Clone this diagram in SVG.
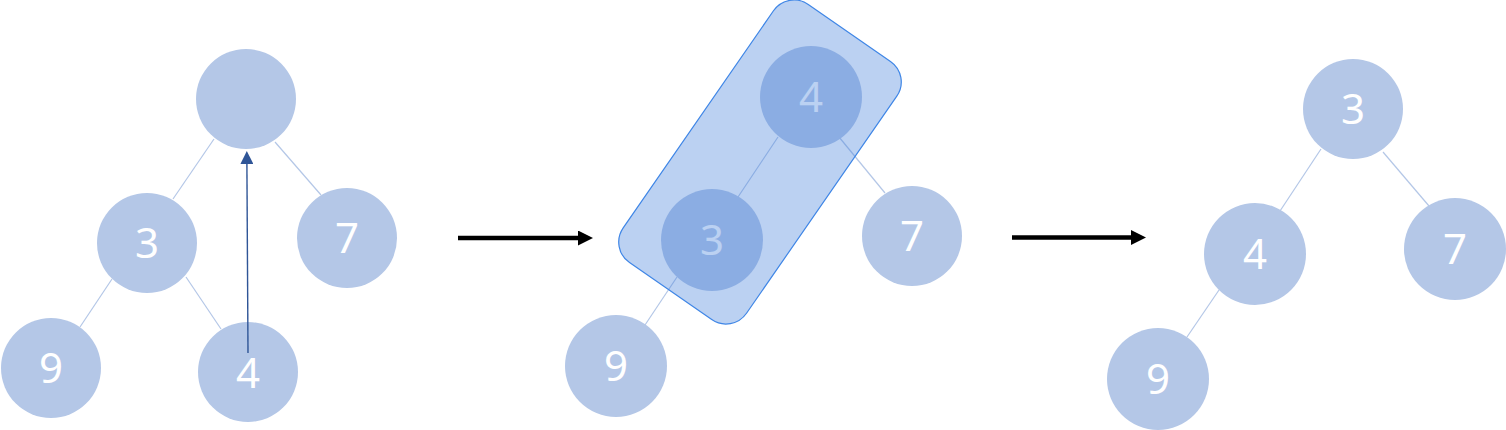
<svg xmlns="http://www.w3.org/2000/svg" width="1506" height="430" viewBox="0 0 1506 430">
  <defs>
    <style>
      .node circle { fill: #B4C7E7; }
      .node text { font-family: "Noto Sans", "Open Sans", "Liberation Sans", sans-serif; font-size: 42px; fill: #FFFFFF; text-anchor: middle; }
      .edge { stroke: #B4C7E7; stroke-width: 1.2; fill: none; }
      .step { stroke: #000000; stroke-width: 4.5; fill: none; }
    </style>
    <marker id="blackHead" viewBox="0 0 10 10" refX="0" refY="5" markerUnits="userSpaceOnUse" markerWidth="15" markerHeight="15" orient="auto">
      <path d="M0,0 L10,5 L0,10 Z" fill="#000000"/>
    </marker>
    <marker id="blueHead" viewBox="0 0 10 10" refX="0" refY="5" markerUnits="userSpaceOnUse" markerWidth="13" markerHeight="13" orient="auto">
      <path d="M0,0 L10,5 L0,10 Z" fill="#2F5597"/>
    </marker>
  </defs>
  <rect width="1506" height="430" fill="#FFFFFF"/>

  <g id="connectors">
    <!-- left tree -->
    <line class="edge" x1="214" y1="139" x2="173" y2="199"/>
    <line class="edge" x1="275" y1="142" x2="321" y2="195"/>
    <line class="edge" x1="112" y1="279" x2="80" y2="327"/>
    <line class="edge" x1="186" y1="277" x2="221" y2="329"/>
    <!-- middle tree -->
    <line class="edge" x1="778" y1="137" x2="738" y2="197"/>
    <line class="edge" x1="839" y1="137" x2="885" y2="193"/>
    <line class="edge" x1="677" y1="277" x2="645" y2="325"/>
    <!-- right tree -->
    <line class="edge" x1="1321" y1="149" x2="1280" y2="211"/>
    <line class="edge" x1="1383" y1="152" x2="1429" y2="206"/>
    <line class="edge" x1="1219" y1="290" x2="1187" y2="337"/>
    <!-- step arrows -->
    <line class="step" x1="458" y1="238" x2="578" y2="238" marker-end="url(#blackHead)"/>
    <line class="step" x1="1012" y1="237.5" x2="1131" y2="237.5" marker-end="url(#blackHead)"/>
  </g>

  <!-- left tree -->
  <g id="L-root" class="node"><circle cx="246" cy="99" r="50"/></g>
  <g id="L-3" class="node"><circle cx="147" cy="243" r="50"/><text x="147" y="258">3</text></g>
  <g id="L-7" class="node"><circle cx="347" cy="238" r="50"/><text x="347" y="253">7</text></g>
  <g id="L-9" class="node"><circle cx="51" cy="368" r="50"/><text x="51" y="383">9</text></g>
  <g id="L-4" class="node"><circle cx="248" cy="372" r="50"/><text x="248" y="388">4</text></g>
  <g id="move-arrow">
    <line x1="248" y1="353" x2="246.9" y2="164" stroke="#2F5597" stroke-width="1.4" marker-end="url(#blueHead)"/>
  </g>

  <!-- middle tree -->
  <g id="M-4" class="node"><circle cx="811" cy="97" r="51"/><text x="811" y="112">4</text></g>
  <g id="M-3" class="node"><circle cx="712" cy="240" r="51"/><text x="712" y="255">3</text></g>
  <g id="M-7" class="node"><circle cx="912" cy="236" r="50"/><text x="912" y="251">7</text></g>
  <g id="M-9" class="node"><circle cx="616" cy="366" r="51"/><text x="616" y="381">9</text></g>
  <g id="M-highlight">
    <rect x="-157" y="-75" width="314" height="150" rx="25" ry="25" transform="translate(760 162) rotate(-55.3)" fill="#4682DC" fill-opacity="0.37" stroke="#3F86E6" stroke-width="1.2"/>
  </g>

  <!-- right tree -->
  <g id="R-3" class="node"><circle cx="1353" cy="109" r="50"/><text x="1353" y="124">3</text></g>
  <g id="R-4" class="node"><circle cx="1255" cy="254" r="51"/><text x="1255" y="269">4</text></g>
  <g id="R-7" class="node"><circle cx="1455" cy="249" r="51"/><text x="1455" y="264">7</text></g>
  <g id="R-9" class="node"><circle cx="1158" cy="379" r="51"/><text x="1158" y="394">9</text></g>
</svg>
